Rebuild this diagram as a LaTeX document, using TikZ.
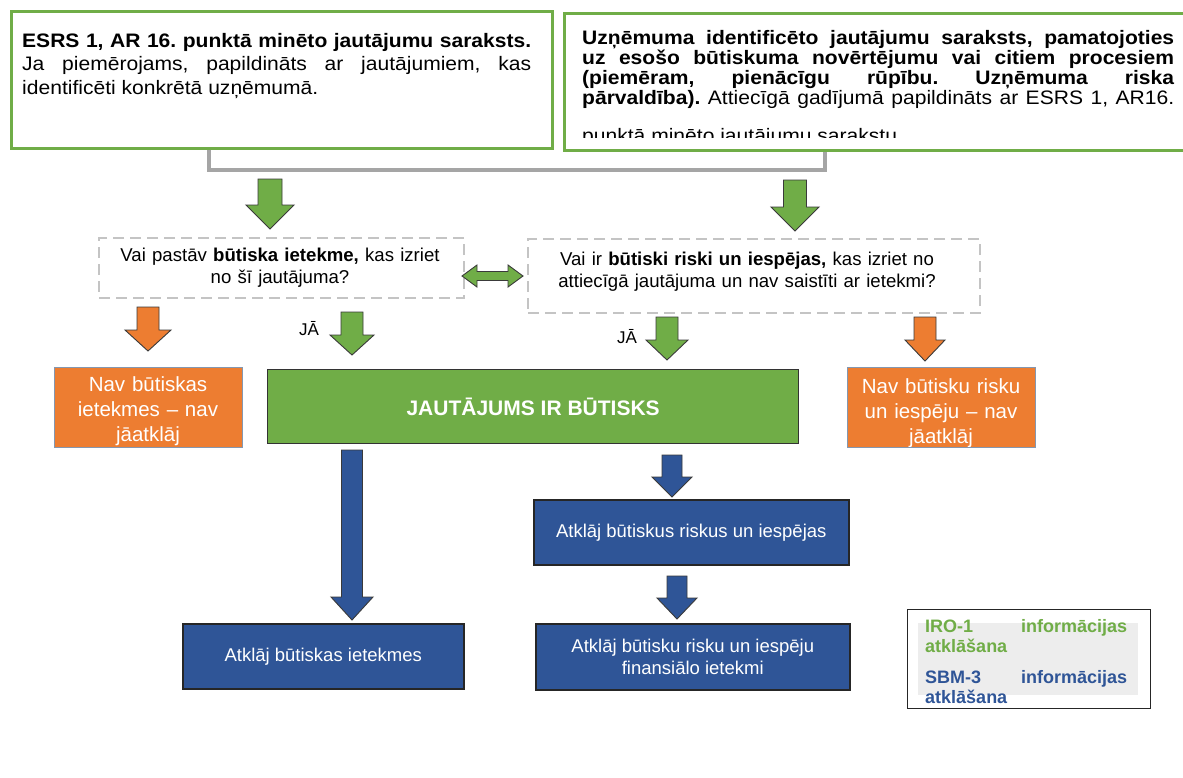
\documentclass[tikz,border=0pt]{standalone}
\usepackage{fontspec}
\setmainfont{Liberation Sans}
\newfontfamily\wfont{Liberation Sans}[FakeStretch=1.08]
\frenchspacing
\definecolor{cgreen}{HTML}{70AD47}
\definecolor{corange}{HTML}{ED7D31}
\definecolor{cblue}{HTML}{2F5597}
\definecolor{cconn}{HTML}{A5A5A5}
\definecolor{cdash}{HTML}{C4C4C4}
\definecolor{cline}{HTML}{3A3A3A}
\definecolor{cobord}{HTML}{8497B0}
\definecolor{clegfill}{HTML}{EDEDED}
% vertical block arrow: x, ytop, ytip, shaft half, head half, head length, fill
\newcommand\varrow[7]{%
  \filldraw[fill=#7, draw=cline, line width=0.9pt, line join=miter]
    (#1-#4,#2) -- (#1+#4,#2) -- (#1+#4,#3-#6) -- (#1+#5,#3-#6) -- (#1,#3)
    -- (#1-#5,#3-#6) -- (#1-#4,#3-#6) -- cycle;}
\begin{document}
\begin{tikzpicture}[x=1pt,y=-1pt,
  topbox/.style={draw=cgreen, line width=2.5pt, fill=white, inner sep=0pt, anchor=north west},
  toptext/.style={anchor=base west, inner sep=0pt, align=justify, font=\wfont\fontsize{19.5}{23.5}\selectfont},
  qbox/.style={draw=cdash, line width=2pt, dash pattern=on 11pt off 6pt, inner sep=0pt, anchor=north west},
  qtext/.style={anchor=base, inner sep=0pt, align=center, font=\fontsize{18.6}{22}\selectfont},
  obox/.style={fill=corange, draw=cobord, line width=1.3pt, inner sep=0pt, anchor=north west},
  otext/.style={anchor=base, inner sep=0pt, align=center, text=white, text width=186pt, font=\fontsize{20.5}{25}\selectfont},
  gbox/.style={fill=cgreen, draw=black!80, line width=1.3pt, inner sep=0pt, anchor=north west, text=white, font=\bfseries\fontsize{21}{25}\selectfont},
  bbox/.style={fill=cblue, draw=black!85, line width=1.5pt, inner sep=0pt, anchor=north west, text=white, align=center, font=\fontsize{18.5}{22}\selectfont},
  jatext/.style={anchor=base west, inner sep=0pt, font=\fontsize{17}{20}\selectfont},
  legtext/.style={anchor=base west, inner sep=0pt, text width=202pt, align=justify, font=\bfseries\fontsize{18}{20}\selectfont},
  conn/.style={draw=cconn, line width=3.5pt}
]
\useasboundingbox (0,0) rectangle (1183,777);
\fill[white] (0,0) rectangle (1183,777);

% top boxes
\node[topbox, minimum width=541pt, minimum height=137pt] (b1) at (10,10) {};
\node[topbox, minimum width=624pt, minimum height=137pt] (b2) at (563,12) {};
\node[toptext, text width=509pt] (b1t) at (22,47)
  {\textbf{ESRS 1, AR 16. punktā minēto jautājumu saraksts.}\linebreak
   Ja piemērojams, papildināts ar jautājumiem, kas\linebreak identificēti konkrētā uzņēmumā.};
\begin{scope}
  \clip (566,15) rectangle (1183,137);
  \node[toptext, text width=592pt, font=\wfont\fontsize{19.5}{20}\selectfont] (b2t) at (582,44)
    {\textbf{Uzņēmuma identificēto jautājumu saraksts, pamatojoties}\linebreak
     \textbf{uz esošo būtiskuma novērtējumu vai citiem procesiem}\linebreak
     \textbf{(piemēram, pienācīgu rūpību. Uzņēmuma riska}\linebreak
     \textbf{pārvaldība).} Attiecīgā gadījumā papildināts ar ESRS 1, AR16.\vspace{18pt}\linebreak
     punktā minēto jautājumu sarakstu.};
\end{scope}

% grey connector
\coordinate (cx1) at (209,0);
\coordinate (cx2) at (825,0);
\coordinate (cy) at (0,170);
\draw[conn] (b1.south -| cx1) -- (cx1 |- cy) -| (b2.south -| cx2);

% question boxes
\node[qbox, minimum width=365pt, minimum height=60pt] (q1) at (98,237) {};
\node[qtext, text width=360pt] (q1t) at (280,261) {Vai pastāv \textbf{būtiska ietekme,} kas izriet\\no šī jautājuma?};
\node[qbox, minimum width=452pt, minimum height=74pt] (q2) at (527,238) {};
\node[qtext, text width=445pt] (q2t) at (747,265) {Vai ir \textbf{būtiski riski un iespējas,} kas izriet no\\attiecīgā jautājuma un nav saistīti ar ietekmi?};

% arrows from top
\varrow{270}{179}{229}{12}{24}{24}{cgreen}
\varrow{795}{180}{231}{11.5}{24}{24}{cgreen}

% double arrow between questions
\filldraw[fill=cgreen, draw=cline, line width=0.9pt, line join=miter]
  (462,276) -- (477,265) -- (477,271.5) -- (508,271.5) -- (508,265) -- (523,276)
  -- (508,287) -- (508,280.5) -- (477,280.5) -- (477,287) -- cycle;

% answer arrows
\varrow{148}{307}{351}{11}{23}{21}{corange}
\varrow{352}{312}{355}{11}{22}{20}{cgreen}
\varrow{667}{317}{360}{11}{21}{20}{cgreen}
\varrow{925}{317}{361}{11}{20}{21}{corange}
\node[jatext] (ja1) at (299,335) {JĀ};
\node[jatext] (ja2) at (617,343) {JĀ};

% orange / green result boxes
\node[obox, minimum width=188pt, minimum height=80pt] (o1) at (54,367) {};
\node[obox, minimum width=188pt, minimum height=80pt] (o2) at (847,367) {};
\begin{scope}
  \clip (55,368) rectangle (241,446);
  \node[otext] (o1t) at (148,391) {Nav būtiskas\\ietekmes – nav\\jāatklāj};
\end{scope}
\begin{scope}
  \clip (848,368) rectangle (1034,446);
  \node[otext] (o2t) at (941,393) {Nav būtisku risku\\un iespēju – nav\\jāatklāj};
\end{scope}
\node[gbox, minimum width=531pt, minimum height=74pt] (g) at (267,369) {JAUTĀJUMS IR BŪTISKS};

% blue arrows and boxes
\varrow{352}{450}{620}{10.5}{21}{23}{cblue}
\varrow{672}{455}{497}{10}{20}{20}{cblue}
\varrow{677}{576}{619}{10}{20}{21}{cblue}
\node[bbox, minimum width=281pt, minimum height=65pt] (r1) at (182,623) {Atklāj būtiskas ietekmes};
\node[bbox, minimum width=315pt, minimum height=65pt] (r2) at (533,499) {Atklāj būtiskus riskus un iespējas};
\node[bbox, minimum width=314pt, minimum height=66pt] (r3) at (535,623) {Atklāj būtisku risku un iespēju\\finansiālo ietekmi};

% legend
\node[draw=black!85, line width=1.3pt, inner sep=0pt, anchor=north west, minimum width=243pt, minimum height=99pt] (leg) at (907,609) {};
\node[fill=clegfill, inner sep=0pt, anchor=north west, minimum width=220pt, minimum height=72pt] (legf) at (918,623) {};
\node[legtext, text=cgreen] (l1) at (925,632) {IRO-1 informācijas\linebreak atklāšana};
\node[legtext, text=cblue] (l2) at (925,683) {SBM-3 informācijas\linebreak atklāšana};
\end{tikzpicture}
\end{document}
